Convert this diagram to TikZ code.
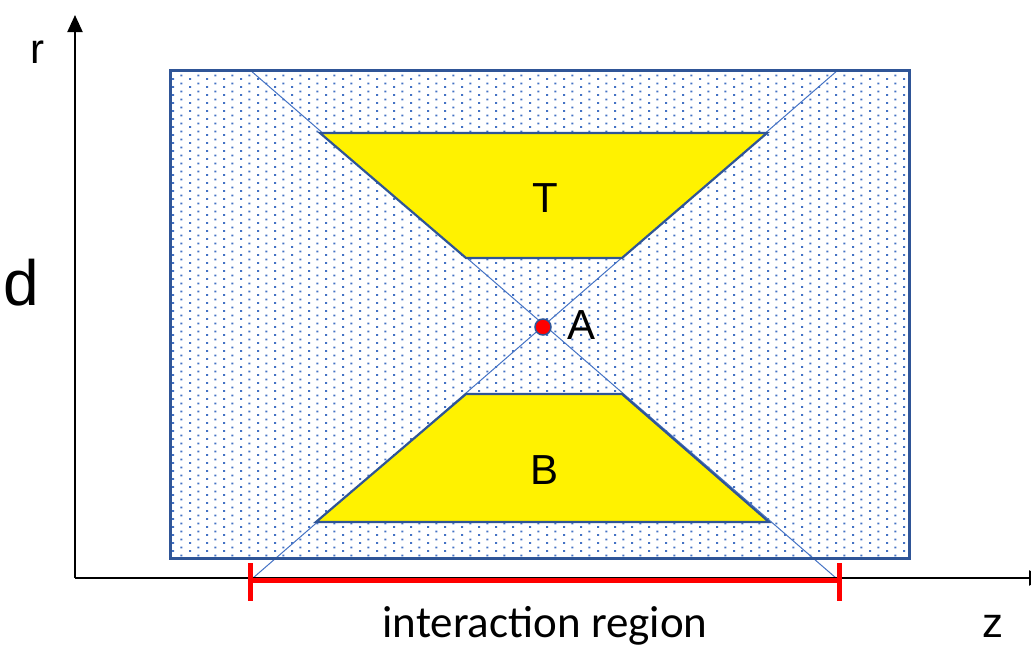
\documentclass[tikz,border=0pt]{standalone}
\usepackage{fontspec}
\setmainfont{Liberation Sans}
\newfontfamily\calfont{Carlito}
\usetikzlibrary{patterns,arrows.meta}
\definecolor{dotblue}{HTML}{4472C4}
\definecolor{edgeblue}{HTML}{2F5597}
\definecolor{lineblue}{HTML}{4472C4}
\pgfdeclarepatternformonly{bluedots}{\pgfpoint{0pt}{0pt}}{\pgfpoint{17.3pt}{8pt}}{\pgfpoint{17.3pt}{8pt}}{
  \pgfpathrectangle{\pgfpoint{0pt}{0pt}}{\pgfpoint{2.1pt}{2.1pt}}
  \pgfpathrectangle{\pgfpoint{8.65pt}{4pt}}{\pgfpoint{2.1pt}{2.1pt}}
  \pgfusepath{fill}}
\tikzset{
  lbl/.style={font=\fontsize{42}{48}\selectfont, inner sep=0pt},
  axis/.style={line width=2pt, black},
  trap/.style={fill=yellow, draw=edgeblue, line width=2.2pt, line join=miter},
  diag/.style={draw=lineblue, line width=1pt},
  redbar/.style={draw=red, line width=5pt},
}
\begin{document}
\begin{tikzpicture}[x=1pt,y=-1pt]
\useasboundingbox (0,0) rectangle (1031,648);
\clip (0,0) rectangle (1031,648);
% region box
\coordinate (R1) at (170,70);
\coordinate (R2) at (909,558);
\fill[white] (R1) rectangle (R2);
\fill[pattern=bluedots, pattern color=dotblue] (R1) rectangle (R2);
% diagonals
\coordinate (D1) at (250,70);
\coordinate (D2) at (836,578);
\coordinate (D3) at (838,70);
\coordinate (D4) at (253,578);
\draw[diag] (D1) -- (D2);
\draw[diag] (D3) -- (D4);
\draw[edgeblue, line width=3pt] (R1) rectangle (R2);
% trapezoids
\draw[trap] (320,133) -- (767,133) -- (622,258) -- (466,258) -- cycle;
\draw[trap] (466,394) -- (622,394) -- (769,522) -- (316,522) -- cycle;
\node[lbl] (T) at (545,198) {T};
\node[lbl] (B) at (545,470) {B};
% point A
\node[circle, fill=red, draw=edgeblue, line width=1.5pt, minimum size=16pt, inner sep=0pt] (Apt) at (543,327) {};
\node[lbl] (A) at (582,325) {A};
% axes
\coordinate (O) at (75,578);
\coordinate (Rtop) at (75,15);
\coordinate (Zend) at (1046,578);
\draw[axis, -{Triangle[length=17pt,width=15pt]}] (O) -- (Rtop);
\draw[axis, -{Triangle[length=17pt,width=15pt]}] (O) -- (Zend);
% interaction region bar
\coordinate (I1) at (250,580);
\coordinate (I2) at (839,580);
\draw[redbar] (I1) -- (I2);
\draw[red, line width=5pt] (250,563) -- (250,601);
\draw[red, line width=5pt] (839,563) -- (839,601);
% labels
\node[lbl] (r) at (37,52) {r};
\node[font=\fontsize{64}{72}\selectfont, inner sep=0pt] (d) at (21,283) {d};
\node[lbl] (z) at (993,626) {z};
\node[font=\calfont\fontsize{45}{52}\selectfont, inner sep=0pt] (ir) at (545,626) {interaction region};
\end{tikzpicture}
\end{document}
